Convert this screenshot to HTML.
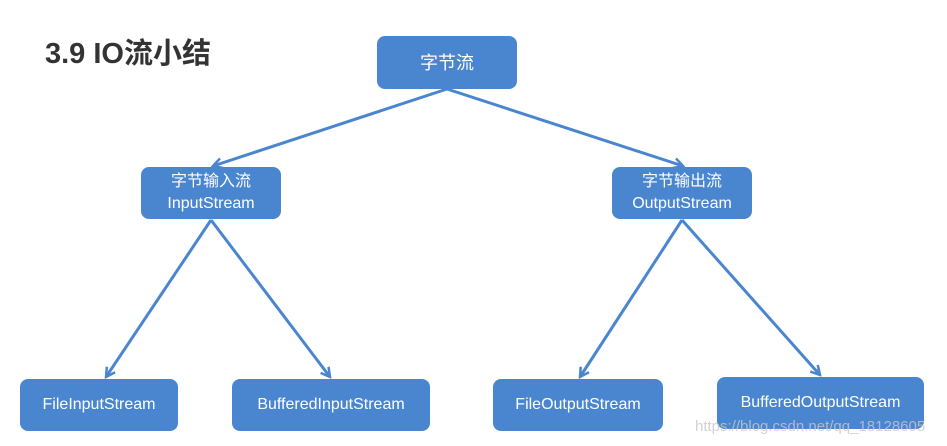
<!DOCTYPE html>
<html><head><meta charset="utf-8"><style>
body{margin:0;width:947px;height:446px;background:#fff;position:relative;overflow:hidden;font-family:"Liberation Sans","Noto Sans CJK SC",sans-serif}
.b{position:absolute;background:#4a86cf;border-radius:8px;color:#fff;display:flex;align-items:center;justify-content:center;text-align:center;font-size:16px;line-height:22px}
</style></head><body>
<div style="position:absolute;left:45px;top:30px;font-size:29px;font-weight:bold;color:#333">3.9 IO流小结</div>
<svg width="947" height="446" style="position:absolute;left:0;top:0">
<defs><marker id="a" markerWidth="12" markerHeight="12" refX="10" refY="6" orient="auto" markerUnits="userSpaceOnUse"><path d="M1,1 L10,6 L1,11" fill="none" stroke="#4a86cf" stroke-width="2.5"/></marker></defs>
<g stroke="#4a86cf" stroke-width="3" fill="none" marker-end="url(#a)">
<line x1="447" y1="89" x2="213" y2="166"/>
<line x1="447" y1="89" x2="683" y2="166"/>
<line x1="211" y1="220" x2="106" y2="377"/>
<line x1="211" y1="220" x2="330" y2="377"/>
<line x1="682" y1="220" x2="580" y2="377"/>
<line x1="682" y1="220" x2="820" y2="375"/>
</g></svg>
<div class="b" style="left:377px;top:36px;width:140px;height:53px;font-size:18px">字节流</div>
<div class="b" style="left:141px;top:167px;width:140px;height:52px">字节输入流<br>InputStream</div>
<div class="b" style="left:612px;top:167px;width:140px;height:52px">字节输出流<br>OutputStream</div>
<div class="b" style="left:20px;top:379px;width:158px;height:52px">FileInputStream</div>
<div class="b" style="left:232px;top:379px;width:198px;height:52px">BufferedInputStream</div>
<div class="b" style="left:493px;top:379px;width:170px;height:52px">FileOutputStream</div>
<div class="b" style="left:717px;top:377px;width:207px;height:52px">BufferedOutputStream</div>
<div style="position:absolute;left:695px;top:418px;font-size:15px;color:rgba(200,200,200,0.8)">https://blog.csdn.net/qq_18128605</div>
</body></html>
